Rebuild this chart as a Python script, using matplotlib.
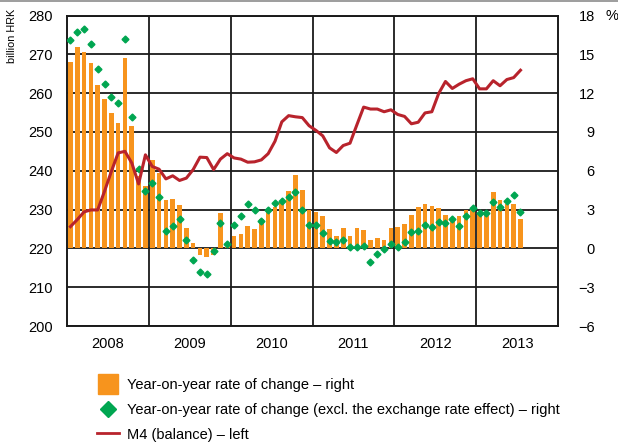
import matplotlib.pyplot as plt
from matplotlib.lines import Line2D
import numpy as np

plt.rcParams['font.family'] = ['Liberation Sans Narrow', 'Liberation Sans', 'DejaVu Sans']
plt.rcParams['font.size'] = 10.5

# ── data: monthly, Jan 2008 – Jul 2013 ─────────────────────────────────────────
years = ["2008", "2009", "2010", "2011", "2012", "2013"]

# year-on-year rate of change (%), right axis
yoy = [14.44, 15.53, 15.16, 14.29, 12.66, 11.58, 10.50, 9.72, 14.75, 9.49, 5.57, 4.79,
       6.86, 5.85, 3.76, 3.84, 3.37, 1.59, 0.43, -0.50, -0.70, -0.55, 2.76, 0.10,
       0.97, 1.13, 1.75, 1.52, 2.29, 2.91, 3.22, 3.68, 4.46, 5.70, 4.54, 2.99,
       2.83, 2.52, 1.52, 0.97, 1.59, 0.97, 1.59, 1.44, 0.67, 0.82, 0.67, 1.59,
       1.67, 1.90, 2.60, 3.22, 3.45, 3.30, 3.14, 2.60, 2.29, 2.52, 2.99, 3.14,
       2.76, 2.76, 4.38, 3.76, 3.45, 3.45, 2.29]

# year-on-year rate of change excl. exchange rate effect (%), right axis
yoy_excl = [16.09, 16.71, 16.92, 15.78, 13.85, 12.74, 11.71, 11.22, 16.17, 10.13, 6.14, 4.41,
            5.08, 3.94, 1.34, 1.73, 2.27, 0.67, -0.93, -1.84, -1.95, -0.21, 1.93, 0.36,
            1.77, 2.52, 3.45, 2.99, 2.08, 2.93, 3.50, 3.68, 3.99, 4.35, 2.99, 1.80,
            1.83, 1.15, 0.56, 0.49, 0.61, 0.07, 0.07, 0.18, -1.09, -0.42, -0.03, 0.30,
            0.12, 0.49, 1.28, 1.31, 1.83, 1.62, 2.06, 1.98, 2.27, 1.75, 2.50, 3.12,
            2.73, 2.73, 3.61, 3.20, 3.63, 4.15, 2.83]

# M4 balance (billion HRK), left axis
m4 = [225.6, 227.4, 229.4, 229.9, 229.9, 234.7, 239.8, 244.6, 245.0, 242.0, 236.6, 244.1,
      241.1, 240.4, 237.9, 238.7, 237.5, 238.1, 240.3, 243.5, 243.4, 240.3, 243.0, 244.4,
      243.3, 243.0, 242.2, 242.3, 242.8, 244.4, 247.6, 252.6, 254.2, 253.9, 253.7, 251.6,
      250.4, 249.0, 245.9, 244.7, 246.5, 247.1, 251.8, 256.4, 255.9, 255.9, 255.2, 255.7,
      254.5, 254.0, 252.1, 252.5, 254.9, 255.2, 259.9, 263.0, 261.2, 262.3, 263.2, 263.7,
      261.1, 261.1, 263.2, 261.9, 263.5, 264.0, 265.9]

ORANGE = "#F7941D"
GREEN = "#00A651"
RED = "#B8232C"

months = np.arange(len(yoy))

fig = plt.figure(figsize=(6.18, 4.45), dpi=100)
ax = fig.add_axes([67 / 618, 1 - 326 / 445, 491 / 618, 310.5 / 445])

# bars + diamonds on the % scale (right)
ax.bar(months, yoy, width=0.68, color=ORANGE, zorder=2)
ax.plot(months, yoy_excl, linestyle="none", marker="D", markersize=3.5,
        color=GREEN, zorder=3)
ax.set_xlim(-0.5, 71.5)
ax.set_ylim(-6, 18)
ax.set_yticks(np.arange(-6, 19, 3))

# year separators and year labels
ax.set_xticks(np.arange(11.5, 71, 12))
ax.set_xticks(np.arange(5.5, 72, 12), minor=True)
ax.set_xticklabels([])
ax.set_xticklabels(years, minor=True)
ax.tick_params(axis="x", which="both", length=0)
ax.tick_params(axis="x", which="minor", pad=8)
ax.grid(True, which="major", color="#1a1a1a", linewidth=1.3, zorder=1)
ax.set_axisbelow(True)
for s in ax.spines.values():
    s.set_linewidth(1.4)
    s.set_color("#1a1a1a")

# M4 line on the billion HRK scale (left)
ax2 = ax.twinx()
ax2.plot(months, m4, color=RED, linewidth=2.2, zorder=4)
ax2.set_ylim(200, 280)
ax2.set_yticks(np.arange(200, 281, 10))
ax2.yaxis.tick_left()
ax2.tick_params(axis="y", length=0, pad=10)
ax2.set_xlim(-0.5, 71.5)
for s in ax2.spines.values():
    s.set_visible(False)

# twinx moved the % ticks to the left, put them back on the right
ax.yaxis.tick_right()
ax.tick_params(axis="y", length=0, pad=26.5)
for t in ax.get_yticklabels():
    t.set_ha("right")

fig.text(12.5 / 618, 1 - 9 / 445, "billion HRK", rotation=90, ha="center", va="top",
         fontsize=7.8)
fig.text(612 / 618, 1 - 16 / 445, "%", ha="center", va="center")

# thin rule at the very top
fig.add_artist(Line2D([0, 1], [0.9985, 0.9985], transform=fig.transFigure,
                      color="#8c8c8c", linewidth=1.2))

handles = [
    Line2D([], [], linestyle="none", marker="s", markersize=14, color=ORANGE),
    Line2D([], [], linestyle="none", marker="D", markersize=8, color=GREEN),
    Line2D([], [], color=RED, linewidth=2),
]
labels = [
    "Year-on-year rate of change – right",
    "Year-on-year rate of change (excl. the exchange rate effect) – right",
    "M4 (balance) – left",
]
fig.legend(handles, labels, loc="upper left", bbox_to_anchor=(97 / 618, 1 - 378 / 445),
           frameon=False, borderpad=0, borderaxespad=0, handlelength=1.5,
           handletextpad=0.55, labelspacing=0.74)

fig.savefig("out.png", dpi=100)
